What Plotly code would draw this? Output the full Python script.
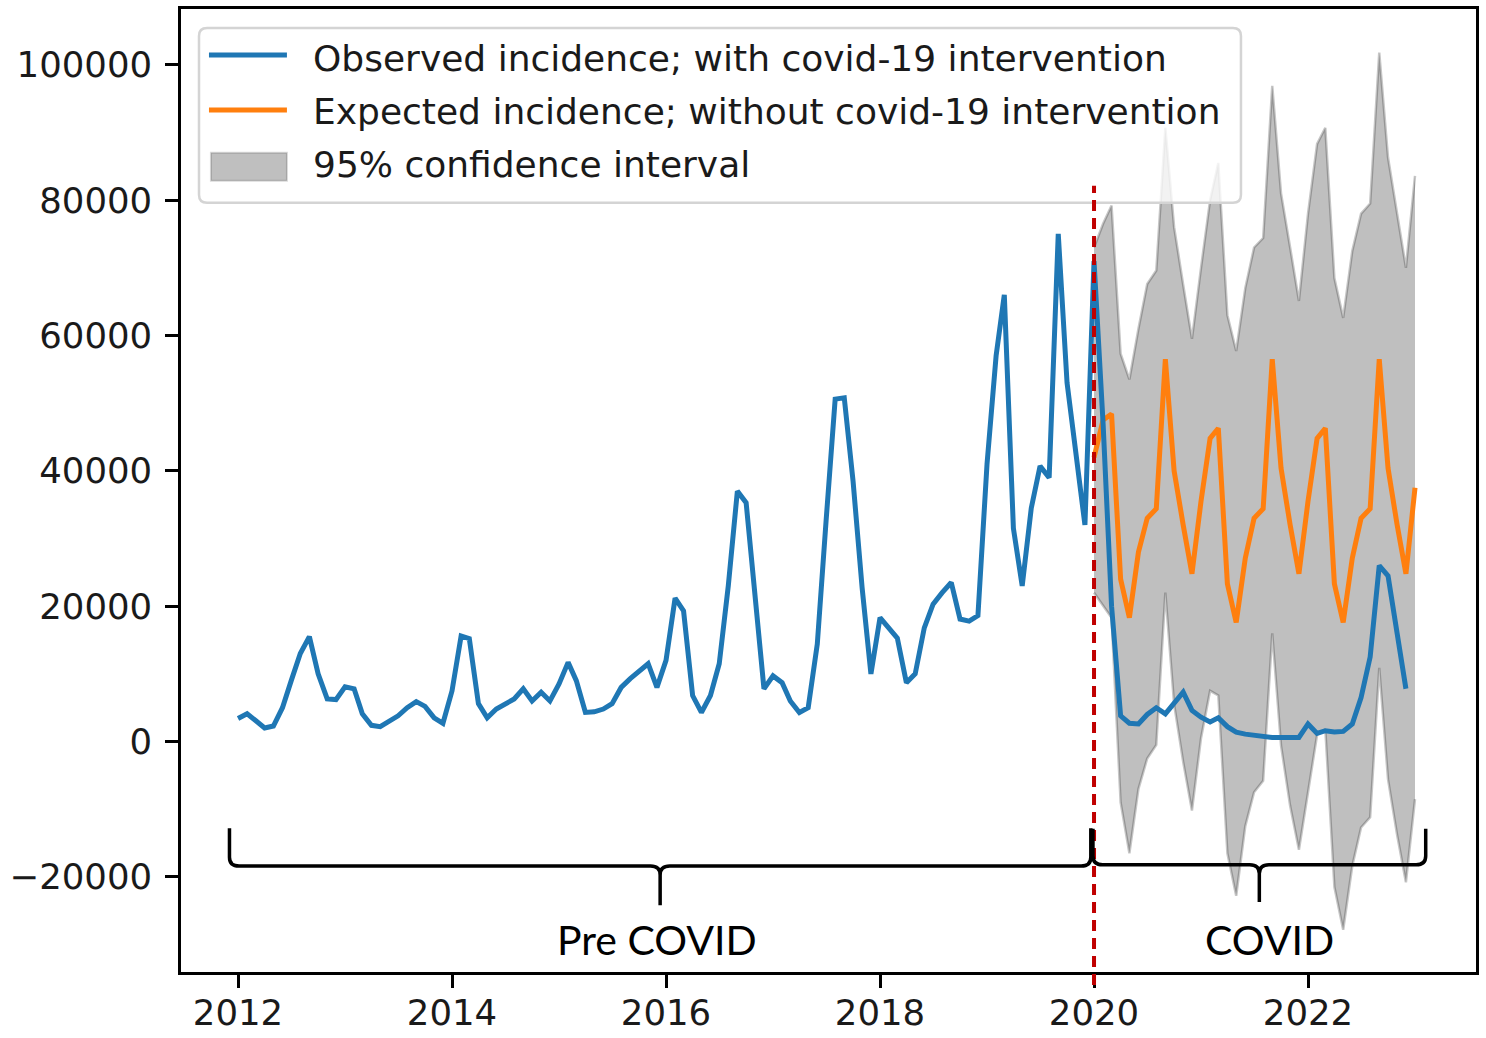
import pandas as pd
import plotly.graph_objects as go

# ---------------- data ----------------
obs_start = "2012-01-01"          # monthly, observed incidence
fc_start = "2020-01-01"           # monthly, counterfactual forecast

observed = [
    3400, 4100, 3100, 2000, 2300, 5000, 9000, 13000, 15500, 10000, 6300, 6200,
    8100, 7800, 4100, 2400, 2200, 3100, 3800, 5000, 5900, 5200, 3500, 2700,
    7500, 15600, 15200, 5600, 3500, 4800, 5500, 6300, 7800, 6000, 7300, 6000,
    8500, 11700, 9000, 4300, 4400, 4800, 5600, 8000, 9300, 10500, 11500, 8000,
    12000, 21200, 19300, 6800, 4300, 6800, 11500, 23000, 37000, 35300, 21200, 7800,
    9700, 8700, 6000, 4300, 5000, 14400, 32600, 50600, 50800, 38500, 22700, 10000,
    18300, 16800, 15300, 8700, 10000, 16800, 20300, 22000, 23500, 18100, 17800, 18600,
    41000, 57000, 66000, 31500, 23000, 34500, 40700, 39000, 75000, 53000, 42000, 32000,
    71000, 47000, 20000, 3800, 2700, 2600, 4000, 5000, 4100, 5700, 7300, 4600,
    3600, 2900, 3500, 2200, 1400, 1100, 900, 700, 600, 600, 600, 600,
    2600, 1200, 1600, 1400, 1500, 2600, 6500, 12500, 26000, 24500, 16000, 7800,
]

expected = [
    42000, 47500, 48400, 24000, 18300, 28000, 33000, 34400, 56500, 40000, 32000, 24800,
    35500, 44800, 46300, 23300, 17600, 27100, 33000, 34400, 56500, 40400, 32000, 24800,
    35500, 44800, 46300, 23300, 17600, 27100, 33000, 34400, 56500, 40400, 32000, 24800,
    37500,
]

ci_lower = [
    22000, 20000, 18300, -9000, -16500, -7000, -2500, -500, 22000, 5500, -3000, -10200,
    500, 7500, 6800, -16500, -22800, -12500, -7500, -5800, 16000, -600, -9500, -16000,
    -7500, 1000, 1800, -21500, -27800, -18400, -12700, -11200, 10900, -5600, -13800, -20800,
    -8500,
]

ci_upper = [
    73000, 76500, 79200, 57300, 53500, 61000, 67600, 69600, 90700, 76000, 67500, 59500,
    70000, 80000, 85500, 63000, 57700, 67000, 73000, 74400, 96900, 81000, 73000, 65100,
    78000, 88300, 90700, 68500, 62600, 72500, 78000, 79500, 101800, 86300, 78000, 70000,
    83600,
]

x_tick_years = [2012, 2014, 2016, 2018, 2020, 2022]
y_tick_values = [-20000, 0, 20000, 40000, 60000, 80000, 100000]

series_labels = [
    "Observed incidence; with covid-19 intervention",
    "Expected incidence; without covid-19 intervention",
    "95% confidence interval",
]
period_labels = ["Pre COVID", "COVID"]
intervention_year = 2020.0


def decimal_years(start, n):
    dates = pd.date_range(start, periods=n, freq="MS")
    return [d.year + (d.dayofyear - 1) / (366 if d.is_leap_year else 365) for d in dates]


x_obs = decimal_years(obs_start, len(observed))
x_fc = decimal_years(fc_start, len(expected))

BLUE = "#1f77b4"
ORANGE = "#ff7f0e"
TICK_FONT = dict(family="DejaVu Sans", size=35.5, color="#1a1a1a")
LEGEND_FONT = dict(family="DejaVu Sans", size=36, color="#1a1a1a")
LINE_W = 5

fig = go.Figure()

# confidence band
fig.add_trace(go.Scatter(x=x_fc, y=ci_upper, mode="lines",
                         line=dict(color="rgba(0,0,0,0.22)", width=2.5),
                         name=series_labels[2], showlegend=False, hoverinfo="skip"))
fig.add_trace(go.Scatter(x=x_fc, y=ci_lower, mode="lines", fill="tonexty",
                         fillcolor="rgba(0,0,0,0.25)",
                         line=dict(color="rgba(0,0,0,0.22)", width=2.5),
                         name=series_labels[2], showlegend=False, hoverinfo="skip"))
# expected
fig.add_trace(go.Scatter(x=x_fc, y=expected, mode="lines",
                         line=dict(color=ORANGE, width=LINE_W),
                         name=series_labels[1], showlegend=False))
# observed
fig.add_trace(go.Scatter(x=x_obs, y=observed, mode="lines",
                         line=dict(color=BLUE, width=LINE_W),
                         name=series_labels[0], showlegend=False))

shapes = []

# ---- custom legend (matplotlib style) ----
shapes.append(dict(type="path", xref="paper", yref="paper", layer="above",
                   path=("M 0.0201,0.9803 L 0.8123,0.9803 Q 0.8185,0.9803 0.8185,0.9720 "
                         "L 0.8185,0.8071 Q 0.8185,0.7988 0.8123,0.7988 "
                         "L 0.0201,0.7988 Q 0.0139,0.7988 0.0139,0.8071 "
                         "L 0.0139,0.9720 Q 0.0139,0.9803 0.0201,0.9803 Z"),
                   fillcolor="rgba(255,255,255,0.8)",
                   line=dict(color="#d4d4d4", width=2.5)))
shapes.append(dict(type="line", xref="paper", yref="paper", layer="above",
                   x0=0.0216, x1=0.0818, y0=0.9523, y1=0.9523,
                   line=dict(color=BLUE, width=LINE_W)))
shapes.append(dict(type="line", xref="paper", yref="paper", layer="above",
                   x0=0.0216, x1=0.0818, y0=0.8952, y1=0.8952,
                   line=dict(color=ORANGE, width=LINE_W)))
shapes.append(dict(type="rect", xref="paper", yref="paper", layer="above",
                   x0=0.0231, x1=0.0818, y0=0.8216, y1=0.8506,
                   fillcolor="rgba(0,0,0,0.25)",
                   line=dict(color="rgba(0,0,0,0.15)", width=2)))

# ---- intervention line ----
shapes.append(dict(type="line", xref="x", yref="paper", layer="above",
                   x0=intervention_year, x1=intervention_year, y0=-0.0135, y1=0.8164,
                   line=dict(color="#c00000", width=4, dash="11px,7px")))


# ---- braces ----
def brace_path(x0, x1, ytop, yh, ytip, rx=0.09, ry=1300):
    xc = (x0 + x1) / 2
    return (f"M {x0},{ytop} L {x0},{yh + ry} Q {x0},{yh} {x0 + rx},{yh} "
            f"L {xc - rx},{yh} Q {xc},{yh} {xc},{yh - ry} L {xc},{ytip} "
            f"M {xc},{yh - ry} Q {xc},{yh} {xc + rx},{yh} "
            f"L {x1 - rx},{yh} Q {x1},{yh} {x1},{yh + ry} L {x1},{ytop}")


shapes.append(dict(type="path", xref="x", yref="y", layer="above",
                   path=brace_path(2011.92, 2019.97, -12800, -18400, -24200),
                   line=dict(color="black", width=3.5)))
shapes.append(dict(type="path", xref="x", yref="y", layer="above",
                   path=brace_path(2019.99, 2023.10, -12900, -18200, -23700),
                   line=dict(color="black", width=3.5)))

annotations = []
legend_y = [0.9482, 0.8937, 0.8382]
for lab, yy in zip(series_labels, legend_y):
    annotations.append(dict(text=lab, xref="paper", yref="paper", x=0.1004, y=yy,
                            xanchor="left", yanchor="middle", showarrow=False,
                            font=LEGEND_FONT))

annotations.append(dict(text=period_labels[0], xref="x", yref="y", x=2015.92, y=-29200,
                        xanchor="center", yanchor="middle", showarrow=False,
                        font=dict(family="Lato", size=41, color="black")))
annotations.append(dict(text=period_labels[1], xref="x", yref="y", x=2021.64, y=-29200,
                        xanchor="center", yanchor="middle", showarrow=False,
                        font=dict(family="Lato", size=41, color="black")))

axis_common = dict(showgrid=False, zeroline=False, showline=True, linecolor="black",
                   linewidth=2.5, mirror=True, ticks="outside", ticklen=13,
                   tickwidth=2.5, tickcolor="black", tickfont=TICK_FONT,
                   automargin=False)

fig.update_layout(
    width=1486, height=1038,
    margin=dict(l=181, r=10, t=9, b=66, autoexpand=False),
    paper_bgcolor="white", plot_bgcolor="white",
    showlegend=False,
    shapes=shapes, annotations=annotations,
    xaxis=dict(range=[2011.467, 2023.57], tickmode="array",
               tickvals=x_tick_years, ticktext=[str(v) for v in x_tick_years],
               ticklabelstandoff=-5, **axis_common),
    yaxis=dict(range=[-34050, 108240], tickmode="array",
               tickvals=y_tick_values,
               ticktext=[("\u2212" + str(-v)) if v < 0 else str(v) for v in y_tick_values],
               ticklabelstandoff=6, **axis_common),
)

fig.write_html("out.html",
               config={"displayModeBar": False},
               post_script="document.body.style.margin='0';document.body.style.overflow='hidden';")
